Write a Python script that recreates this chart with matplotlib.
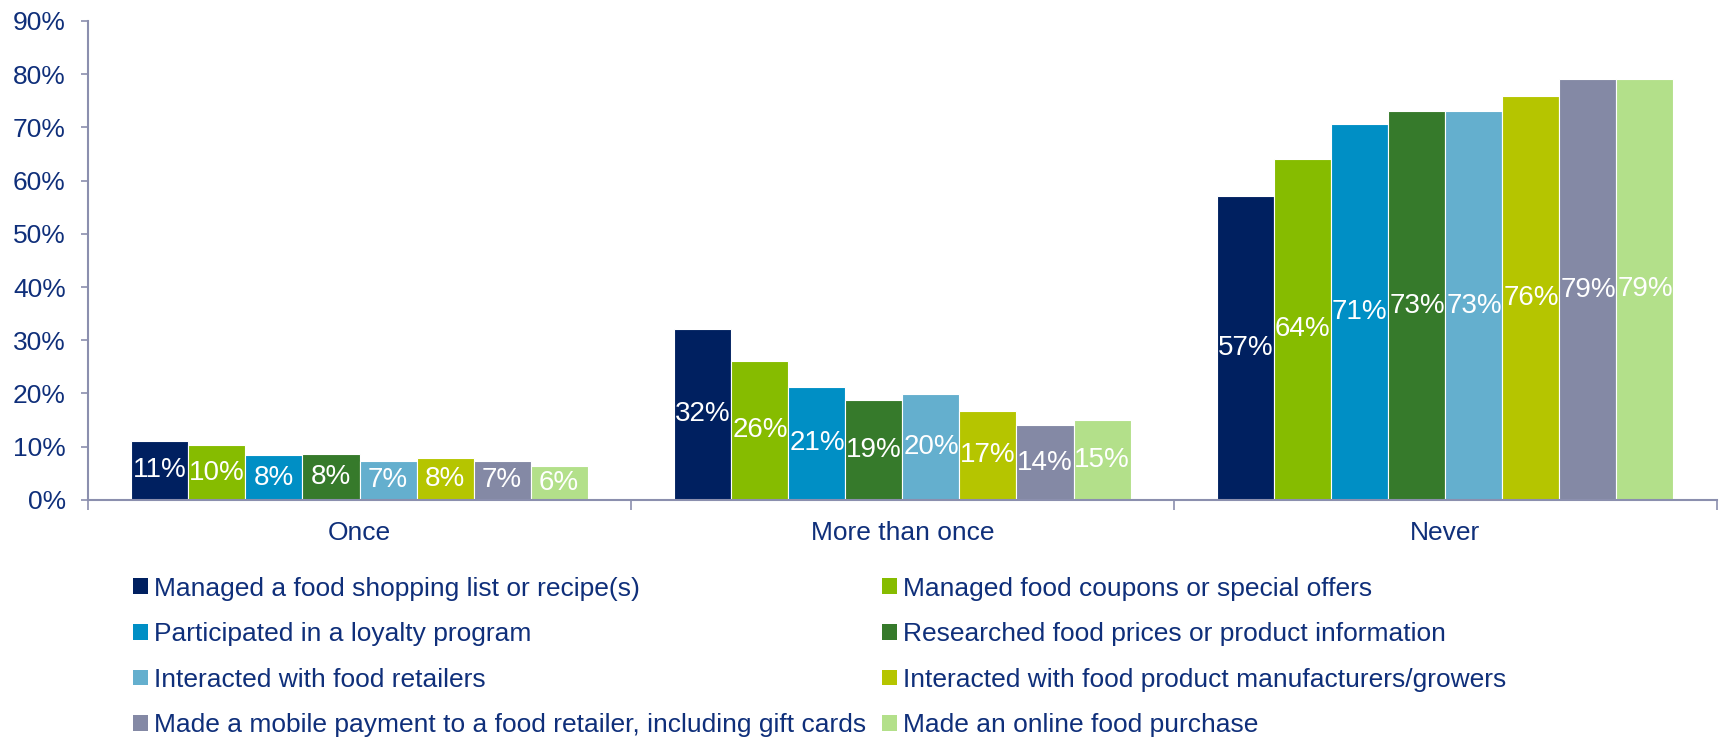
import numpy as np
import matplotlib
matplotlib.use('Agg')
import matplotlib.pyplot as plt
from matplotlib.patches import Patch

plt.rcParams['font.family'] = ['Liberation Sans', 'DejaVu Sans']

# Data (share of respondents)
categories = ['Once', 'More than once', 'Never']
series_names = [
    'Managed a food shopping list or recipe(s)',
    'Managed food coupons or special offers',
    'Participated in a loyalty program',
    'Researched food prices or product information',
    'Interacted with food retailers',
    'Interacted with food product manufacturers/growers',
    'Made a mobile payment to a food retailer, including gift cards',
    'Made an online food purchase',
]
once = [11.1, 10.3, 8.4, 8.6, 7.4, 7.8, 7.4, 6.3]
more_than_once = [32.2, 26.1, 21.3, 18.8, 19.9, 16.8, 14.0, 15.0]
never = [57.1, 64.1, 70.6, 73.0, 73.0, 75.8, 79.0, 79.1]
labels_once = ['11%', '10%', '8%', '8%', '7%', '8%', '7%', '6%']
labels_more = ['32%', '26%', '21%', '19%', '20%', '17%', '14%', '15%']
labels_never = ['57%', '64%', '71%', '73%', '73%', '76%', '79%', '79%']

colors = ['#002060', '#86bc00', '#008fc5', '#367a2b',
          '#64afce', '#b5c500', '#8489a5', '#b3e08a']
text_color = '#0f2f7a'
axis_color = '#8b8fae'

values = np.array([once, more_than_once, never])  # rows = categories
labels = [labels_once, labels_more, labels_never]

fig = plt.figure(figsize=(17.19, 7.37), dpi=100)
ax = fig.add_axes([0.0512, 0.3216, 0.9476, 0.6502])

x = np.arange(len(categories))
n = len(series_names)
width = 0.105
for i in range(n):
    pos = x + (i - (n - 1) / 2) * width
    bars = ax.bar(pos, values[:, i], width, color=colors[i],
                  edgecolor='white', linewidth=0.8)
    ax.bar_label(bars, labels=[labels[c][i] for c in range(len(categories))],
                 label_type='center', color='white', fontsize=20)

ax.set_xlim(-0.5, 2.5)
ax.set_ylim(0, 90)
ax.set_yticks(np.arange(0, 91, 10))
ax.set_yticklabels([f'{v}%' for v in range(0, 91, 10)])
ax.set_xticks([-0.5, 0.5, 1.5, 2.5])
ax.set_xticklabels([])
ax.set_xticks(x, minor=True)
ax.set_xticklabels(categories, minor=True)
ax.tick_params(axis='x', which='minor', length=0, pad=15,
               labelsize=19, labelcolor=text_color)
ax.tick_params(axis='x', which='major', length=7, color=axis_color, width=1.2)
ax.tick_params(axis='y', length=5, color=axis_color, width=1.2,
               labelsize=19, labelcolor=text_color, pad=11)

for s in ['top', 'right']:
    ax.spines[s].set_visible(False)
for s in ['left', 'bottom']:
    ax.spines[s].set_color(axis_color)
    ax.spines[s].set_linewidth(1.5)

# legend fills row by row in the original: reorder for column-major layout
order = [0, 2, 4, 6, 1, 3, 5, 7]
handles = [Patch(facecolor=colors[k], edgecolor='none') for k in order]
names = [series_names[k] for k in order]
fig.legend(handles, names, loc='upper left', ncol=2,
           bbox_to_anchor=(0.0713, 0.232), frameon=False,
           fontsize=19, labelcolor=text_color,
           handlelength=0.55, handleheight=0.55, handletextpad=0.25,
           columnspacing=0.6, labelspacing=0.82, borderaxespad=0)

fig.savefig('out.png', dpi=100)
